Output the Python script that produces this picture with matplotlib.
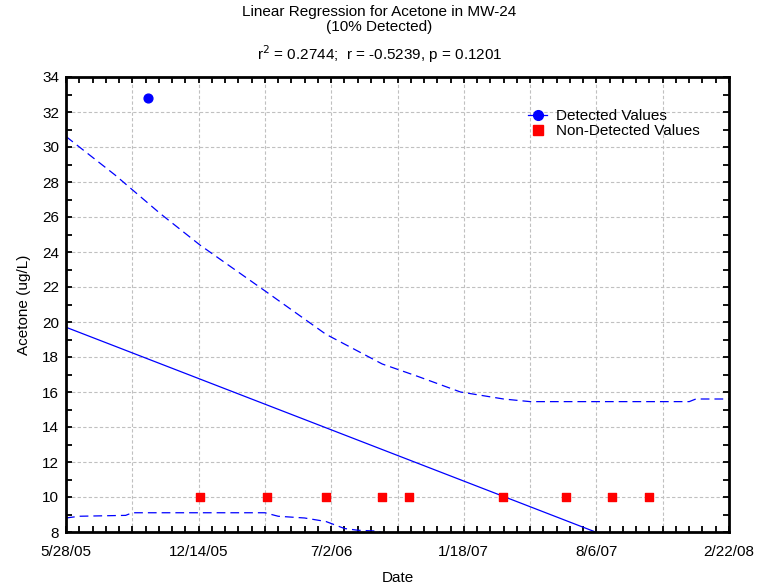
import datetime as dt

import matplotlib
matplotlib.use('Agg')
import matplotlib.dates as mdates
import matplotlib.pyplot as plt
from matplotlib.lines import Line2D
from matplotlib.ticker import FuncFormatter, FixedLocator

START = dt.date(2005, 5, 28)

# measured values (days after 5/28/05)
detected_days = [124]
detected_vals = [32.8]
nondetect_days = [202, 303, 392, 477, 517, 659, 754, 824, 879]
nondetect_vals = [10, 10, 10, 10, 10, 10, 10, 10, 10]

# fitted line
fit_days = [0, 1000]
fit_vals = [19.7, 5.05]

# confidence bands
upper_days = [0, 74, 142, 202, 303, 392, 477, 530, 595, 660, 700, 800, 940, 950, 1000]
upper_vals = [30.6, 28.4, 26.2, 24.4, 21.7, 19.3, 17.6, 16.9, 16.0, 15.6, 15.45, 15.45, 15.45, 15.6, 15.6]
lower_days = [0, 20, 90, 100, 300, 320, 360, 392, 420, 440, 470, 500]
lower_vals = [8.8, 8.9, 8.95, 9.1, 9.1, 8.9, 8.8, 8.6, 8.2, 8.1, 8.05, 7.6]


def to_dates(days):
    return [START + dt.timedelta(days=d) for d in days]


def fmt_date(x, pos):
    d = mdates.num2date(x)
    return f"{d.month}/{d.day}/{d.strftime('%y')}"


plt.rcParams['font.family'] = ['Liberation Sans', 'DejaVu Sans']

fig = plt.figure(figsize=(7.59, 5.87), dpi=100)
ax = fig.add_axes([66 / 759, 1 - 532 / 587, (729 - 66) / 759, (532 - 77) / 587])

blue = '#0000ff'
ax.plot(to_dates(fit_days), fit_vals, color=blue, lw=0.9)
ax.plot(to_dates(upper_days), upper_vals, color=blue, lw=0.9, ls=(0, (7, 4)))
ax.plot(to_dates(lower_days), lower_vals, color=blue, lw=0.9, ls=(0, (7, 4)))
ax.scatter(to_dates(detected_days), detected_vals, color=blue, s=40, zorder=5)
ax.scatter(to_dates(nondetect_days), nondetect_vals, color='#ff0000', marker='s', s=40, zorder=5)

x0 = mdates.date2num(START)
ax.set_xlim(x0, x0 + 1000)
ax.set_ylim(8, 34)

ax.xaxis.set_major_locator(FixedLocator([x0 + 200 * k for k in range(6)]))
ax.xaxis.set_minor_locator(FixedLocator([x0 + 20 * k for k in range(51)]))
ax.xaxis.set_major_formatter(FuncFormatter(fmt_date))
ax.yaxis.set_major_locator(FixedLocator(range(8, 35, 2)))
ax.yaxis.set_minor_locator(FixedLocator(range(8, 35)))
ax.tick_params(which='both', direction='in', top=True, right=True, length=4, width=1.3,
               labelsize=11)
ax.tick_params(axis='x', pad=9)
ax.tick_params(axis='y', pad=5)

for k in range(1, 10):
    ax.axvline(x0 + k * 100, color='#c0c0c0', lw=0.8, ls=(0, (3, 2)), zorder=0)
ax.yaxis.grid(True, color='#c0c0c0', lw=0.8, ls=(0, (3, 2)))
ax.set_axisbelow(True)

for s in ax.spines.values():
    s.set_linewidth(2)

ax.set_xlabel('Date', fontsize=11, labelpad=9)
ax.set_ylabel('Acetone (ug/L)', fontsize=11, labelpad=8)

fig.text(0.5, 1 - 12 / 587, 'Linear Regression for Acetone in MW-24', ha='center', va='center', fontsize=11)
fig.text(0.5, 1 - 27 / 587, '(10% Detected)', ha='center', va='center', fontsize=11)
fig.text(0.5, 1 - 54 / 587, r'r$^2$ = 0.2744;  r = -0.5239, p = 0.1201', ha='center', va='center', fontsize=11)

handles = [
    Line2D([0], [0], color=blue, marker='o', lw=0.9, markersize=7),
    Line2D([0], [0], color='#ff0000', marker='s', lw=0, markersize=7),
]
ax.legend(handles, ['Detected Values', 'Non-Detected Values'], loc='upper left',
          bbox_to_anchor=(0.686, 0.946), frameon=False, fontsize=11, handlelength=1.2,
          handletextpad=0.6, labelspacing=0.05, borderpad=0)

fig.savefig('out.png', dpi=100)
